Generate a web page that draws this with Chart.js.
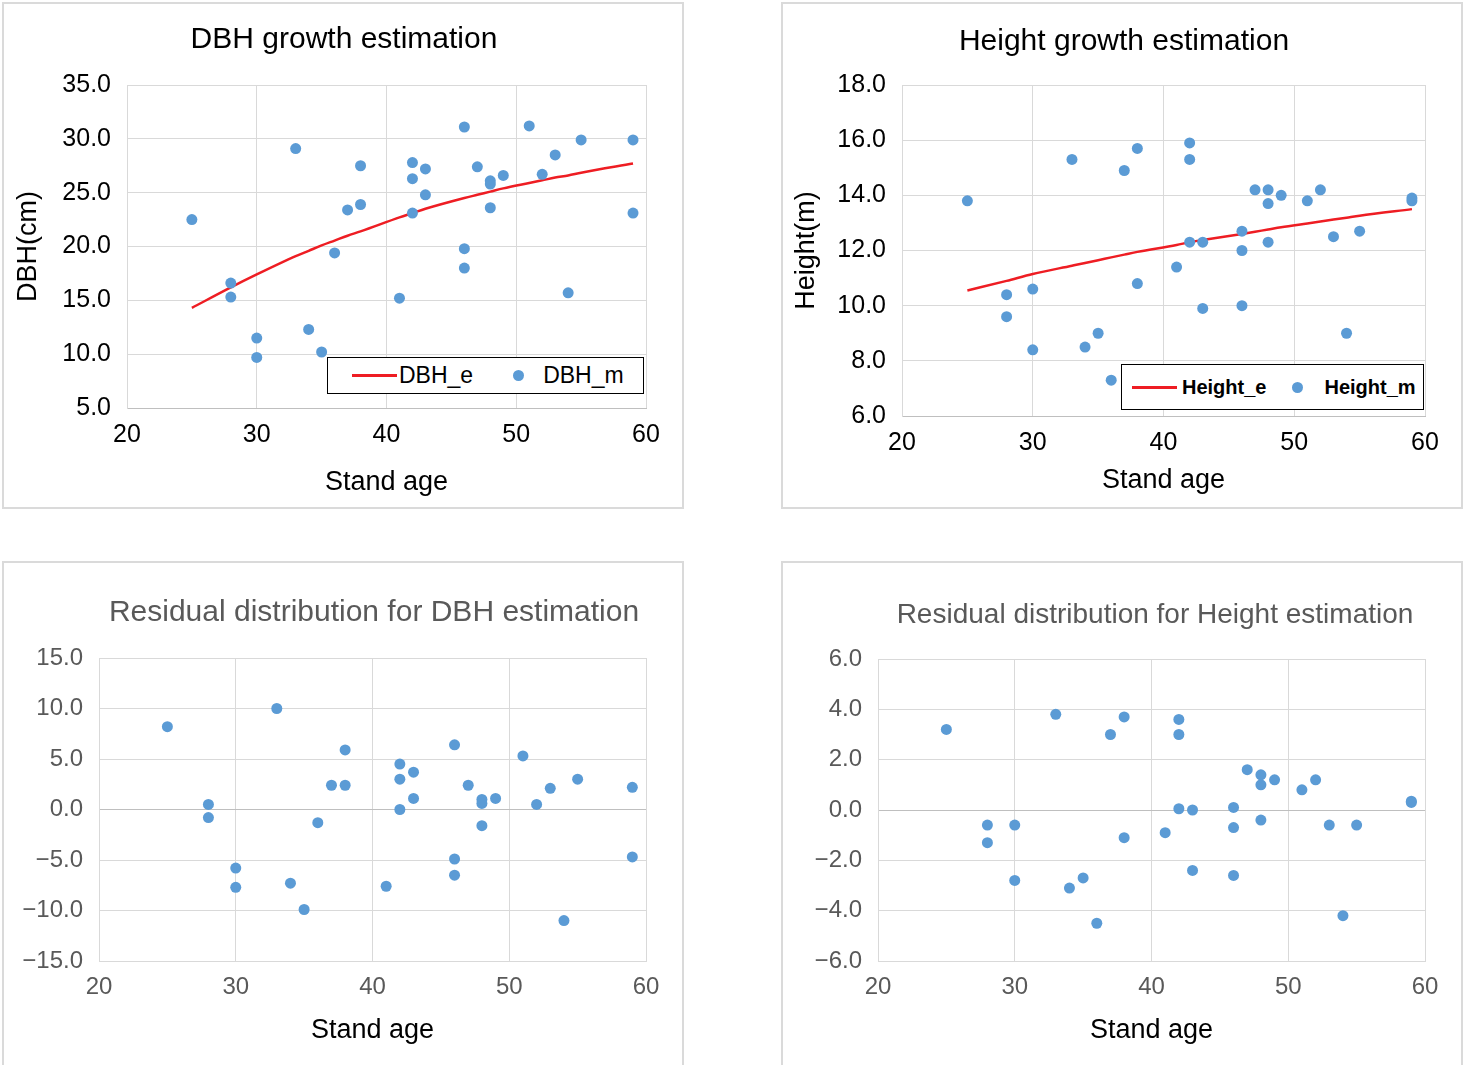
<!DOCTYPE html>
<html>
<head>
<meta charset="utf-8">
<title>Stand age growth estimation</title>
<script src="https://cdn.jsdelivr.net/npm/chart.js@4.4.1/dist/chart.umd.min.js"></script>
<style>
  body { margin: 0; width: 1466px; height: 1065px; overflow: hidden; position: relative; background: #fff;
         font-family: "Liberation Sans", Arial, sans-serif; }
  .panel { position: absolute; box-sizing: border-box; border: 2px solid #dadada; }
  canvas { position: absolute; }
  .title { position: absolute; white-space: nowrap; transform: translate(-50%, -50%); line-height: 1; }
  .legend { position: absolute; box-sizing: border-box; border: 1.5px solid #000; background: #fff;
            display: flex; align-items: center; white-space: nowrap; color: #000; }
  .legend .line { display: inline-block; height: 3px; }
  .legend .dot { display: inline-block; width: 11px; height: 11px; border-radius: 50%; }
</style>
</head>
<body>
<div class="panel" style="left:2px;top:2px;width:682px;height:507px"></div>
<div class="panel" style="left:781px;top:2px;width:682px;height:507px"></div>
<div class="panel" style="left:2px;top:561px;width:682px;height:520px"></div>
<div class="panel" style="left:781px;top:561px;width:682px;height:520px"></div>

<canvas id="dbh" width="680" height="505" style="left:3px;top:3px"></canvas>
<canvas id="height" width="680" height="505" style="left:782px;top:3px"></canvas>
<canvas id="dbhRes" width="680" height="502" style="left:3px;top:563px"></canvas>
<canvas id="heightRes" width="680" height="502" style="left:782px;top:563px"></canvas>

<div class="title" style="left:344px;top:38px;font-size:30px;color:#000">DBH growth estimation</div>
<div class="title" style="left:1124px;top:40px;font-size:30px;color:#000">Height growth estimation</div>
<div class="title" style="left:374px;top:611px;font-size:30px;color:#595959">Residual distribution for DBH estimation</div>
<div class="title" style="left:1155px;top:614px;font-size:28px;color:#595959">Residual distribution for Height estimation</div>

<script>
// stand age of each sample plot
const ages = [25, 28, 28, 30, 30, 33, 34, 35, 36, 37, 38, 38, 41, 42, 42, 42, 43, 43, 46, 46, 46, 47, 48, 48, 48, 49, 51, 52, 53, 54, 55, 59, 59];
const dbhMeasured = [22.5, 16.6, 15.3, 11.5, 9.7, 29.1, 12.3, 10.2, 19.4, 23.4, 27.5, 23.9, 15.2, 27.8, 26.3, 23.1, 27.2, 24.8, 31.1, 19.8, 18.0, 27.4, 26.1, 25.8, 23.6, 26.6, 31.2, 26.7, 28.5, 15.7, 29.9, 29.9, 23.1];
const dbhResidual = [8.2, 0.5, -0.8, -5.8, -7.7, 10.0, -7.3, -9.9, -1.3, 2.4, 5.9, 2.4, -7.6, 4.5, 3.0, 0.0, 3.7, 1.1, 6.4, -4.9, -6.5, 2.4, 1.0, 0.6, -1.6, 1.1, 5.3, 0.5, 2.1, -11.0, 3.0, 2.2, -4.7];
const heightMeasured = [13.8, 10.4, 9.6, 10.6, 8.4, 15.3, 8.5, 9.0, 7.3, 14.9, 15.7, 10.8, 11.4, 15.9, 15.3, 12.3, 12.3, 9.9, 12.7, 12.0, 10.0, 14.2, 14.2, 13.7, 12.3, 14.0, 13.8, 14.2, 12.5, 9.0, 12.7, 13.9, 13.8];
const heightResidual = [3.2, -0.6, -1.3, -0.6, -2.8, 3.8, -3.1, -2.7, -4.5, 3.0, 3.7, -1.1, -0.9, 3.6, 3.0, 0.05, 0.0, -2.4, 0.1, -0.7, -2.6, 1.6, 1.4, 1.0, -0.4, 1.2, 0.8, 1.2, -0.6, -4.2, -0.6, 0.35, 0.3];

// estimated growth curves
const fitAges = [25, 28, 30, 33, 34, 35, 36, 37, 38, 41, 42, 43, 46, 47, 48, 49, 51, 52, 53, 54, 55, 59];
const dbhEstimated = [14.3, 16.2, 17.4, 19.1, 19.6, 20.1, 20.55, 21.0, 21.4, 22.7, 23.1, 23.5, 24.5, 24.8, 25.1, 25.4, 25.9, 26.15, 26.4, 26.6, 26.85, 27.7];
const heightEstimated = [10.55, 10.9, 11.15, 11.45, 11.55, 11.65, 11.75, 11.85, 11.95, 12.2, 12.3, 12.38, 12.6, 12.68, 12.76, 12.84, 12.98, 13.05, 13.12, 13.19, 13.26, 13.5];

const RED = '#ee1d23';
const BLUE = '#5b9bd5';
const FONT = '"Liberation Sans", Arial, sans-serif';

const pairs = (xs, ys) => xs.map((x, i) => ({ x: x, y: ys[i] }));
const fmt = v => (v < 0 ? '\u2212' : '') + Math.abs(v).toFixed(1);

function drawPanel(id, c) {
  const datasets = [];
  if (c.fit) {
    datasets.push({ label: c.fitLabel, data: pairs(fitAges, c.fit), showLine: true, borderColor: RED,
                    backgroundColor: RED, borderWidth: 2.5, pointRadius: 0, cubicInterpolationMode: 'monotone',
                    order: 1 });
  }
  datasets.push({ label: c.label, data: pairs(ages, c.values), backgroundColor: BLUE, borderColor: BLUE,
                  pointRadius: 5.5, pointHoverRadius: 5.5, borderWidth: 0, order: 0 });

  return new Chart(document.getElementById(id), {
    type: 'scatter',
    data: { datasets: datasets },
    options: {
      responsive: false,
      animation: false,
      layout: { padding: { top: c.top, right: c.right, bottom: 0, left: 0 } },
      plugins: { legend: { display: false }, tooltip: { enabled: false }, title: { display: false } },
      scales: {
        x: {
          type: 'linear', min: 20, max: 60,
          ticks: { stepSize: 10, autoSkip: false, maxRotation: 0, color: c.tickColor, padding: 12,
                   font: { family: FONT, size: c.tickSize } },
          grid: { color: '#d9d9d9', drawTicks: false },
          border: { color: c.zero ? '#d9d9d9' : '#bfbfbf' },
          title: { display: true, text: 'Stand age', color: '#000', padding: { top: 0, bottom: c.xTitlePad },
                   font: { family: FONT, size: 27 } },
          afterFit: s => { s.height = c.xHeight; }
        },
        y: {
          min: c.min, max: c.max,
          ticks: { stepSize: c.step, autoSkip: false, color: c.tickColor, padding: 16, callback: fmt,
                   font: { family: FONT, size: c.tickSize } },
          grid: { color: g => (c.zero && g.tick && g.tick.value === 0) ? '#bfbfbf' : '#d9d9d9', drawTicks: false },
          border: { color: '#d9d9d9' },
          title: { display: !!c.yTitle, text: c.yTitle, color: '#000', padding: { top: c.yTitlePad, bottom: 0 },
                   font: { family: FONT, size: 27 } },
          afterFit: s => { s.width = c.yWidth; }
        }
      }
    }
  });
}

function addLegend(chart, b) {
  const el = document.createElement('div');
  el.className = 'legend';
  Object.assign(el.style, { left: b.left + 'px', top: b.top + 'px', width: b.width + 'px', height: b.height + 'px',
                            paddingLeft: b.pad + 'px', font: b.font });
  chart.data.datasets.forEach((ds, i) => {
    const sw = document.createElement('span');
    if (ds.showLine) { sw.className = 'line'; sw.style.width = '45px'; sw.style.background = ds.borderColor; }
    else { sw.className = 'dot'; sw.style.background = ds.backgroundColor; }
    sw.style.marginLeft = (i === 0 ? 0 : b.itemGap) + 'px';
    const tx = document.createElement('span');
    tx.textContent = ds.label;
    tx.style.marginLeft = (ds.showLine ? b.lineGap : b.dotGap) + 'px';
    el.append(sw, tx);
  });
  document.body.appendChild(el);
}

const dbhChart = drawPanel('dbh', {
  values: dbhMeasured, label: 'DBH_m', fit: dbhEstimated, fitLabel: 'DBH_e', yTitle: 'DBH(cm)',
  min: 5, max: 35, step: 5, top: 82, right: 37, yWidth: 124, xHeight: 100, xTitlePad: 9, yTitlePad: 9,
  tickSize: 25, tickColor: '#000'
});
const heightChart = drawPanel('height', {
  values: heightMeasured, label: 'Height_m', fit: heightEstimated, fitLabel: 'Height_e', yTitle: 'Height(m)',
  min: 6, max: 18, step: 2, top: 82, right: 37, yWidth: 120, xHeight: 92, xTitlePad: 11, yTitlePad: 8,
  tickSize: 25, tickColor: '#000'
});
drawPanel('dbhRes', {
  values: dbhResidual, label: 'DBH residual', min: -15, max: 15, step: 5, zero: true,
  top: 95, right: 37, yWidth: 96, xHeight: 104, xTitlePad: 18, tickSize: 24, tickColor: '#595959'
});
drawPanel('heightRes', {
  values: heightResidual, label: 'Height residual', min: -6, max: 6, step: 2, zero: true,
  top: 96, right: 37, yWidth: 96, xHeight: 104, xTitlePad: 18, tickSize: 24, tickColor: '#595959'
});

addLegend(dbhChart, { left: 327, top: 357, width: 317, height: 37, pad: 24, lineGap: 2, itemGap: 40, dotGap: 19,
                      font: '23px ' + FONT });
addLegend(heightChart, { left: 1121, top: 364, width: 303, height: 46, pad: 10, lineGap: 5, itemGap: 26, dotGap: 21,
                         font: 'bold 20px ' + FONT });
</script>
</body>
</html>
